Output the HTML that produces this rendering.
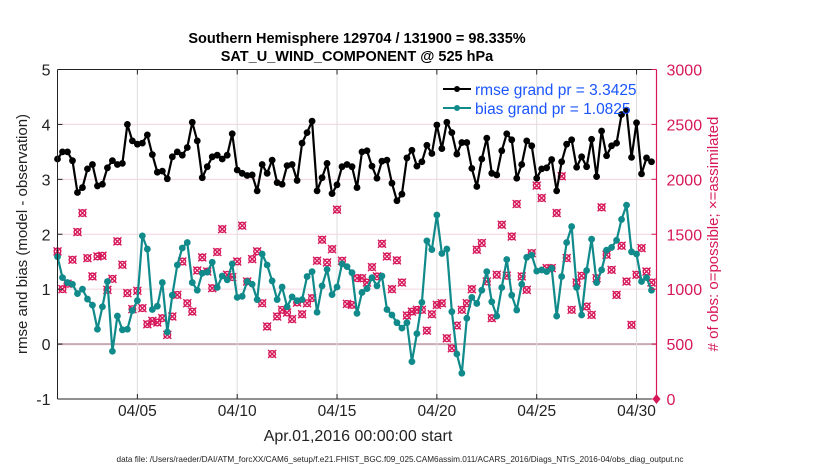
<!DOCTYPE html>
<html><head><meta charset="utf-8"><style>
body{margin:0;background:#fff;}
svg text{font-family:"Liberation Sans",Helvetica,Arial,sans-serif;}
</style></head><body>
<svg id="chart" width="830" height="470" xmlns="http://www.w3.org/2000/svg">
<g id="grid"></g>
<g id="marks"></g>
<g id="axes"></g>
<text x="357" y="43" text-anchor="middle" font-size="14.5" font-weight="bold">Southern Hemisphere 129704 / 131900 = 98.335%</text>
<text x="357" y="61" text-anchor="middle" font-size="14.5" font-weight="bold">SAT_U_WIND_COMPONENT @ 525 hPa</text>
<text x="358" y="441" text-anchor="middle" font-size="16" fill="#222">Apr.01,2016 00:00:00 start</text>
<text transform="translate(27,234) rotate(-90)" text-anchor="middle" font-size="15" fill="#222">rmse and bias (model - observation)</text>
<text transform="translate(718,234) rotate(-90)" text-anchor="middle" font-size="15" fill="#d6185a"># of obs: o=possible; ×=assimilated</text>
<text x="400" y="462" text-anchor="middle" font-size="8.2" fill="#222">data file: /Users/raeder/DAI/ATM_forcXX/CAM6_setup/f.e21.FHIST_BGC.f09_025.CAM6assim.011/ACARS_2016/Diags_NTrS_2016-04/obs_diag_output.nc</text>
<g>
<g>
<line x1="443" y1="89" x2="471" y2="89" stroke="#000" stroke-width="2"/><circle cx="457" cy="89" r="3" fill="#000"/>
<text x="475" y="95" font-size="15.5" fill="#1a55ff">rmse grand pr = 3.3425</text></g>
<g>
<line x1="443" y1="108" x2="471" y2="108" stroke="#108a8a" stroke-width="2"/><circle cx="457" cy="108" r="3" fill="#108a8a"/>
<text x="475" y="114" font-size="15.5" fill="#1a55ff">bias grand pr = 1.0825</text></g>
</g>
</svg>
<script>
const rmse=[3.37,3.50,3.50,3.34,2.76,2.85,3.19,3.27,2.88,2.91,3.21,3.34,3.27,3.29,4.00,3.70,3.64,3.66,3.81,3.45,3.13,3.15,3.01,3.41,3.50,3.44,3.58,4.04,3.70,3.03,3.23,
3.41,3.44,3.37,3.44,3.83,3.17,3.11,3.07,3.08,2.79,3.27,3.11,3.35,2.94,2.91,3.25,3.27,2.98,3.66,3.85,4.06,2.79,3.03,3.29,2.74,2.90,3.23,3.27,3.23,2.85,
3.50,3.52,3.24,3.02,3.33,3.35,2.93,2.61,2.73,3.39,3.53,3.24,3.32,3.62,3.47,3.99,3.56,4.04,3.85,3.46,3.67,3.67,3.20,2.87,3.37,3.75,3.11,3.08,3.52,3.83,
3.72,3.02,3.27,3.70,3.61,3.02,3.19,3.21,3.36,2.79,3.32,3.64,3.72,3.22,3.41,3.23,3.73,3.05,3.88,3.43,3.61,3.66,4.18,4.26,3.40,4.03,3.10,3.39,3.32];
const bias=[1.59,1.21,1.12,1.09,0.92,1.00,0.82,0.71,0.27,0.68,1.14,-0.13,0.51,0.26,0.27,0.61,0.79,1.97,1.73,0.63,0.69,1.12,0.22,0.89,1.44,1.75,1.85,1.12,0.98,1.29,1.31,
1.49,1.03,1.24,1.17,1.46,0.85,0.87,1.14,1.09,0.81,1.64,1.44,1.15,0.81,1.04,0.68,0.86,0.79,0.81,1.23,1.32,0.58,1.06,1.36,0.90,1.04,1.46,1.41,1.30,0.56,
0.94,1.01,1.21,1.06,1.24,0.63,0.53,0.39,0.29,0.39,-0.32,0.19,0.76,1.88,1.72,2.35,1.65,1.73,0.59,-0.18,-0.53,0.47,0.85,0.74,0.98,1.32,0.77,0.51,1.03,1.54,
0.89,0.62,1.09,1.58,1.62,1.33,1.35,1.32,1.38,0.51,1.23,1.85,2.14,1.03,0.53,1.34,1.91,1.12,1.35,1.71,1.76,1.89,2.27,2.53,1.68,1.64,1.14,1.21,0.98];
const nobs=[1344,1000,1049,1268,1520,1693,1283,1116,1298,1304,994,1094,1435,1222,964,818,985,827,681,711,696,736,584,751,948,1252,872,796,1170,
1289,1161,1009,1338,1547,1131,1110,1252,1578,1070,1274,1344,872,660,410,751,812,787,727,879,772,872,918,1259,1450,1243,1365,1724,1259,866,857,1100,
1100,1061,1201,1116,1414,1298,1000,1262,1061,760,796,812,812,623,772,857,872,553,462,669,812,872,1000,1359,1420,1070,736,1131,1587,1122,
1480,1775,1116,994,1328,1943,1830,1192,1192,1693,2028,1283,812,1061,1122,842,766,1100,1745,1313,1176,948,1395,1070,675,1131,1374,1161,1061];
const xTickDays=[4,9,14,19,24,29];
const xTickLabels=["04/05","04/10","04/15","04/20","04/25","04/30"];
const yTicks=[-1,0,1,2,3,4,5];
const y2Ticks=[0,500,1000,1500,2000,2500,3000];

const L=57.5,R=656.5,T=69.5,B=399;
const xs=d=>L+(d/30)*(R-L);
const ys=v=>B-(v+1)/6*(B-T);
const y2s=v=>B-v/3000*(B-T);
const NS="http://www.w3.org/2000/svg";
function mk(tag,parent,attrs){const e=document.createElementNS(NS,tag);for(const k in attrs)e.setAttribute(k,attrs[k]);parent.appendChild(e);return e;}
const grid=document.getElementById('grid'),marks=document.getElementById('marks'),axes=document.getElementById('axes');

yTicks.forEach(v=>{if(v>-1&&v<5){const l=mk('line',grid,{x1:L,x2:R,y1:ys(v),y2:ys(v),stroke:v===0?'#c9aab3':'#f3d3df','stroke-width':v===0?2:1});

}});
xTickDays.forEach(d=>{const l=mk('line',grid,{x1:xs(d),x2:xs(d),y1:T,y2:B,stroke:'#dddddd','stroke-width':1});

});

const t=i=>i*0.25;
nobs.forEach((n,i)=>{const g=mk('g',marks,{stroke:'#d6185a',fill:'none','stroke-width':1.4});


const cx=xs(t(i)),cy=y2s(n);
mk('circle',g,{cx:cx,cy:cy,r:3.3});
mk('line',g,{x1:cx-4,x2:cx+4,y1:cy-4,y2:cy+4});
mk('line',g,{x1:cx-4,x2:cx+4,y1:cy+4,y2:cy-4});});

function series(arr,color,name){
const p=mk('polyline',marks,{points:arr.map((v,i)=>xs(t(i))+','+ys(v)).join(' '),fill:'none',stroke:color,'stroke-width':2.2,'stroke-linejoin':'round'});


arr.forEach((v,i)=>{const c=mk('circle',marks,{cx:xs(t(i)),cy:ys(v),r:3.4,fill:color});

});}
series(bias,'#108a8a','bias');
series(rmse,'#000000','rmse');

const f1=mk('line',axes,{x1:L,x2:R,y1:T,y2:T,stroke:'#222','stroke-width':1});


const f2=mk('line',axes,{x1:L,x2:R,y1:B,y2:B,stroke:'#222','stroke-width':1});


const f3=mk('line',axes,{x1:L,x2:L,y1:T,y2:B,stroke:'#222','stroke-width':1});


const f4=mk('line',axes,{x1:R,x2:R,y1:T,y2:B,stroke:'#d6185a','stroke-width':1.2});



yTicks.forEach(v=>{const tx=mk('text',axes,{x:L-7,y:ys(v)+6,'text-anchor':'end','font-size':16,fill:'#222'});tx.textContent=v;


mk('line',axes,{x1:L,x2:L+5,y1:ys(v),y2:ys(v),stroke:'#222'});});
y2Ticks.forEach(v=>{const tx=mk('text',axes,{x:R+10,y:y2s(v)+6,'font-size':16,fill:'#d6185a'});tx.textContent=v;


mk('line',axes,{x1:R-5,x2:R,y1:y2s(v),y2:y2s(v),stroke:'#d6185a'});});
xTickDays.forEach((d,k)=>{const tx=mk('text',axes,{x:xs(d),y:416,'text-anchor':'middle','font-size':15.5,fill:'#222'});tx.textContent=xTickLabels[k];


mk('line',axes,{x1:xs(d),x2:xs(d),y1:B,y2:B-5,stroke:'#222'});
mk('line',axes,{x1:xs(d),x2:xs(d),y1:T,y2:T+5,stroke:'#222'});});
const dm=mk('path',axes,{d:`M${R} ${B-5} L${R+4} ${B} L${R} ${B+5} L${R-4} ${B} Z`,fill:'#d6185a'});


</script>
</body></html>
